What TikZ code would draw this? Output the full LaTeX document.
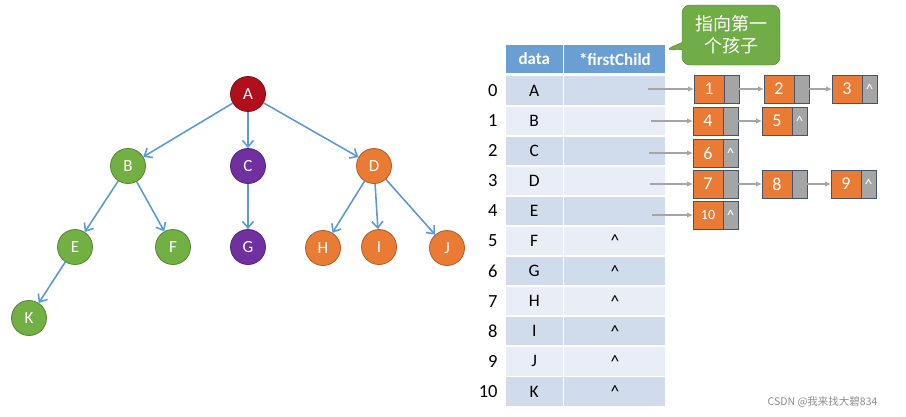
\documentclass[tikz,border=0pt]{standalone}
\usepackage{fontspec}
\setmainfont{Carlito}
\newfontfamily\cjk{Noto Sans CJK SC}
\usetikzlibrary{arrows.meta,positioning,shapes.callouts,calc}
\definecolor{treeblue}{HTML}{5B9BD5}
\definecolor{rootred}{HTML}{B0101C}
\definecolor{leafgreen}{HTML}{72B043}
\definecolor{deeppurple}{HTML}{7030A0}
\definecolor{warmorange}{HTML}{E97B35}
\definecolor{headblue}{HTML}{6A9FD4}
\definecolor{rowdark}{HTML}{D0DBEC}
\definecolor{rowlight}{HTML}{E9EEF6}
\definecolor{ptrgray}{HTML}{A5A5A5}
\definecolor{boxedge}{HTML}{44546A}
\definecolor{notegreen}{HTML}{70AD47}
\tikzset{
  tr/vertex/.style={circle, draw=#1!75!black, fill=#1, line width=0.8pt, minimum size=35pt, inner sep=0pt, text=white, font=\fontsize{17}{19}\selectfont},
  tr/edge/.style={-{Straight Barb[length=6.5pt,width=11pt]}, draw=treeblue, line width=1.6pt},
  tb/head/.style={fill=headblue, text=white, font=\fontsize{17}{19}\selectfont\bfseries, minimum height=28pt, inner sep=0pt},
  tb/cell/.style={fill=#1, minimum height=28.2pt, inner sep=0pt, font=\fontsize{17.5}{19}\selectfont},
  tb/data/.style={tb/cell=#1, minimum width=56.5pt},
  tb/child/.style={tb/cell=#1, minimum width=101pt},
  tb/index/.style={inner sep=0pt, font=\fontsize{18.5}{20}\selectfont},
  ls/num/.style={draw=boxedge, fill=warmorange, text=white, outer sep=0pt, minimum width=30pt, minimum height=28pt, inner sep=0pt, font=\fontsize{18}{20}\selectfont},
  ls/ptr/.style={draw=boxedge, fill=ptrgray, text=white, outer sep=0pt, minimum width=15pt, minimum height=28pt, inner sep=0pt, font=\fontsize{15}{16}\selectfont},
  ls/link/.style={-{Latex[length=6pt,width=5.5pt]}, draw=ptrgray, line width=1.1pt}
}
\newcommand{\nullp}{\textasciicircum}

\begin{document}
\begin{tikzpicture}[x=1pt, y=-1pt]
  \useasboundingbox (0,0) rectangle (906,416);

  % Tree
  \node[tr/vertex=rootred] (A) at (248,94) {A};
  \node[tr/vertex=leafgreen] (B) at (128,166) {B};
  \node[tr/vertex=deeppurple] (C) at (248,166) {C};
  \node[tr/vertex=warmorange] (D) at (374,166) {D};
  \node[tr/vertex=leafgreen] (E) at (75,247) {E};
  \node[tr/vertex=leafgreen] (F) at (173,247) {F};
  \node[tr/vertex=deeppurple] (G) at (248,247) {G};
  \node[tr/vertex=warmorange] (H) at (323,248) {H};
  \node[tr/vertex=warmorange] (I) at (379,247) {I};
  \node[tr/vertex=warmorange] (J) at (447,248) {J};
  \node[tr/vertex=leafgreen] (K) at (29,318) {K};

  \draw[tr/edge] (A) -- (B);
  \draw[tr/edge] (A) -- (C);
  \draw[tr/edge] (A) -- (D);
  \draw[tr/edge] (B) -- (E);
  \draw[tr/edge] (B) -- (F);
  \draw[tr/edge] (C) -- (G);
  \draw[tr/edge] (D) -- (H);
  \draw[tr/edge] (D) -- (I);
  \draw[tr/edge] (D) -- (J);
  \draw[tr/edge] (E) -- (K);

  % Table
  \node[tb/head, minimum width=56.5pt] (hdata) at (534.25,59) {data};
  \node[tb/head, minimum width=101pt, right=1.5pt of hdata] (hchild) {*firstChild};

  \node[tb/data=rowdark, below=3pt of hdata] (d0) {A};
  \node[tb/child=rowdark, right=1.5pt of d0] (p0) {};
  \node[tb/index, left=8pt of d0] (i0) {0};
  \node[tb/data=rowlight, below=1.5pt of d0] (d1) {B};
  \node[tb/child=rowlight, right=1.5pt of d1] (p1) {};
  \node[tb/index, left=8pt of d1] (i1) {1};
  \node[tb/data=rowdark, below=1.5pt of d1] (d2) {C};
  \node[tb/child=rowdark, right=1.5pt of d2] (p2) {};
  \node[tb/index, left=8pt of d2] (i2) {2};
  \node[tb/data=rowlight, below=1.5pt of d2] (d3) {D};
  \node[tb/child=rowlight, right=1.5pt of d3] (p3) {};
  \node[tb/index, left=8pt of d3] (i3) {3};
  \node[tb/data=rowdark, below=1.5pt of d3] (d4) {E};
  \node[tb/child=rowdark, right=1.5pt of d4] (p4) {};
  \node[tb/index, left=8pt of d4] (i4) {4};
  \node[tb/data=rowlight, below=1.5pt of d4] (d5) {F};
  \node[tb/child=rowlight, right=1.5pt of d5] (p5) {\nullp};
  \node[tb/index, left=8pt of d5] (i5) {5};
  \node[tb/data=rowdark, below=1.5pt of d5] (d6) {G};
  \node[tb/child=rowdark, right=1.5pt of d6] (p6) {\nullp};
  \node[tb/index, left=8pt of d6] (i6) {6};
  \node[tb/data=rowlight, below=1.5pt of d6] (d7) {H};
  \node[tb/child=rowlight, right=1.5pt of d7] (p7) {\nullp};
  \node[tb/index, left=8pt of d7] (i7) {7};
  \node[tb/data=rowdark, below=1.5pt of d7] (d8) {I};
  \node[tb/child=rowdark, right=1.5pt of d8] (p8) {\nullp};
  \node[tb/index, left=8pt of d8] (i8) {8};
  \node[tb/data=rowlight, below=1.5pt of d8] (d9) {J};
  \node[tb/child=rowlight, right=1.5pt of d9] (p9) {\nullp};
  \node[tb/index, left=8pt of d9] (i9) {9};
  \node[tb/data=rowdark, below=1.5pt of d9] (d10) {K};
  \node[tb/child=rowdark, right=1.5pt of d10] (p10) {\nullp};
  \node[tb/index, left=8pt of d10] (i10) {10};

  % Child lists
  \node[ls/num] (n1) at (709,89) {1};
  \node[ls/ptr, right=0pt of n1] (n1p) {};
  \node[ls/num, right=25pt of n1p] (n2) {2};
  \node[ls/ptr, right=0pt of n2] (n2p) {};
  \node[ls/num, right=23pt of n2p] (n3) {3};
  \node[ls/ptr, right=0pt of n3] (n3p) {\nullp};

  \node[ls/num] (n4) at (708,121) {4};
  \node[ls/ptr, right=0pt of n4] (n4p) {};
  \node[ls/num, right=24pt of n4p] (n5) {5};
  \node[ls/ptr, right=0pt of n5] (n5p) {\nullp};

  \node[ls/num] (n6) at (708,153) {6};
  \node[ls/ptr, right=0pt of n6] (n6p) {\nullp};

  \node[ls/num] (n7) at (708,184) {7};
  \node[ls/ptr, right=0pt of n7] (n7p) {};
  \node[ls/num, right=24pt of n7p] (n8) {8};
  \node[ls/ptr, right=0pt of n8] (n8p) {};
  \node[ls/num, right=24pt of n8p] (n9) {9};
  \node[ls/ptr, right=0pt of n9] (n9p) {\nullp};

  \node[ls/num, font=\fontsize{14}{15}\selectfont] (n10) at (708,215) {10};
  \node[ls/ptr, right=0pt of n10] (n10p) {\nullp};

  \draw[ls/link] ($(p0.east |- n1.west)+(-18pt,0)$) -- (n1);
  \draw[ls/link] ($(p1.east |- n4.west)+(-15pt,0)$) -- (n4);
  \draw[ls/link] ($(p2.east |- n6.west)+(-17pt,0)$) -- (n6);
  \draw[ls/link] ($(p3.east |- n7.west)+(-16pt,0)$) -- (n7);
  \draw[ls/link] ($(p4.east |- n10.west)+(-14pt,0)$) -- (n10);
  \draw[ls/link] (n1p) -- (n2);
  \draw[ls/link] (n2p) -- (n3);
  \draw[ls/link] (n4p) -- (n5);
  \draw[ls/link] (n7p) -- (n8);
  \draw[ls/link] (n8p) -- (n9);

  % Note
  \coordinate (tip) at ($(hchild.east)+(-1pt,9pt)$);
  \node[rectangle callout, callout absolute pointer=(tip), draw=notegreen!70!black, fill=notegreen, rounded corners=8pt,
        minimum width=98pt, minimum height=60pt, text=white, align=center,
        font=\cjk\fontsize{18}{22}\selectfont] (note) at (731,35) {指向第一\\个孩子};

  \node[text=black!45, anchor=east, font=\cjk\fontsize{10.5}{12}\selectfont] (mark) at (881,402) {CSDN @我来找大碧834};
\end{tikzpicture}
\end{document}
